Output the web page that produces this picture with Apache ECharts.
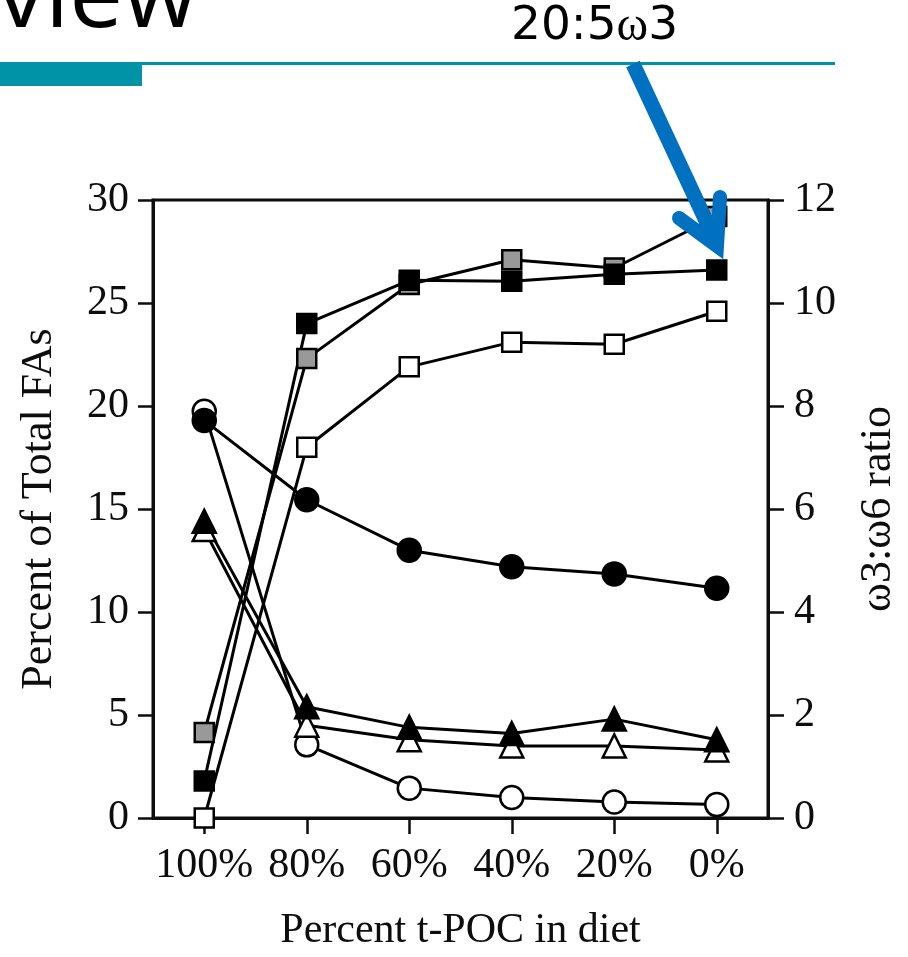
<!DOCTYPE html>
<html>
<head>
<meta charset="utf-8">
<script src="https://cdn.jsdelivr.net/npm/echarts@6/dist/echarts.min.js"></script>
<style>
html,body{margin:0;padding:0;background:#fff;}
#chart{width:908px;height:957px;}
</style>
</head>
<body>
<div id="chart"></div>
<script>
// ---- data ----
var categories = ['100%', '80%', '60%', '40%', '20%', '0%'];
var leftTicks = { min: 0, max: 30, interval: 5 };
var rightTicks = { min: 0, max: 12, interval: 2 };

var openSquares   = [0.0, 18.0, 21.9, 23.1, 23.0, 24.6];
var graySquares   = [4.15, 22.3, 25.9, 27.1, 26.7, 29.2];
var blackSquares  = [1.8, 24.0, 26.1, 26.05, 26.4, 26.6];   // 20:5ω3
var openCircles   = [19.75, 3.55, 1.45, 1.0, 0.78, 0.65];
var filledCircles = [19.3, 15.45, 13.0, 12.2, 11.85, 11.15];
var openTriangles = [14.0, 4.5, 3.8, 3.5, 3.5, 3.3];
var filledTriangles = [14.4, 5.4, 4.4, 4.1, 4.8, 3.8];

var SERIF = '"Liberation Serif", "Times New Roman", serif';
var INK = '#0d0d0d';

function mk(name, data, symbol, size, fill) {
  return {
    name: name,
    type: 'line',
    data: data,
    yAxisIndex: 0,
    symbol: symbol,
    symbolSize: size,
    showAllSymbol: true,
    lineStyle: { color: '#000', width: 3 },
    itemStyle: { color: fill, borderColor: '#000', borderWidth: 2.5 },
    emphasis: { disabled: true },
    animation: false
  };
}

var chart = echarts.init(document.getElementById('chart'), null, { renderer: 'canvas' });
chart.setOption({
  backgroundColor: '#fff',
  animation: false,
  grid: {
    left: 153, right: 136, top: 200, bottom: 136,
    show: true, borderColor: INK, borderWidth: 3, backgroundColor: 'transparent'
  },
  xAxis: {
    type: 'category',
    data: categories,
    boundaryGap: true,
    axisLine: { lineStyle: { color: INK, width: 3 } },
    axisTick: { show: true, alignWithLabel: true, length: 16, lineStyle: { color: INK, width: 2.5 } },
    axisLabel: { interval: 0, fontFamily: SERIF, fontSize: 42, color: INK, margin: 27 },
    name: 'Percent t-POC in diet',
    nameLocation: 'middle',
    nameGap: 92,
    nameTextStyle: { fontFamily: SERIF, fontSize: 42, color: INK }
  },
  yAxis: [
    {
      type: 'value', position: 'left',
      min: leftTicks.min, max: leftTicks.max, interval: leftTicks.interval,
      splitLine: { show: false },
      axisLine: { show: true, lineStyle: { color: INK, width: 3 } },
      axisTick: { show: true, length: 15, lineStyle: { color: INK, width: 2.5 } },
      axisLabel: { fontFamily: SERIF, fontSize: 42, color: INK, margin: 24 },
      name: 'Percent of Total FAs',
      nameLocation: 'middle',
      nameGap: 92,
      nameTextStyle: { fontFamily: SERIF, fontSize: 44, color: INK }
    },
    {
      type: 'value', position: 'right',
      min: rightTicks.min, max: rightTicks.max, interval: rightTicks.interval,
      splitLine: { show: false },
      axisLine: { show: true, lineStyle: { color: INK, width: 3 } },
      axisTick: { show: true, length: 16, lineStyle: { color: INK, width: 2.5 } },
      axisLabel: { fontFamily: SERIF, fontSize: 42, color: INK, margin: 26 },
      name: 'ω3:ω6 ratio',
      nameLocation: 'middle',
      nameGap: 88,
      nameTextStyle: { fontFamily: SERIF, fontSize: 44, color: INK }
    }
  ],
  series: [
    mk('Open squares', openSquares, 'rect', 19, '#fff'),
    mk('Gray squares', graySquares, 'rect', 19, '#999'),
    mk('20:5ω3', blackSquares, 'rect', 19, '#000'),
    mk('Open circles', openCircles, 'circle', 23, '#fff'),
    mk('Filled circles', filledCircles, 'circle', 23, '#000'),
    mk('Open triangles', openTriangles, 'triangle', 23, '#fff'),
    mk('Filled triangles', filledTriangles, 'triangle', 23, '#000')
  ],
  graphic: [
    { type: 'text', z: 100, style: { x: -3, y: 0, text: 'view', fontFamily: '"Open Sans", sans-serif', fontSize: 96, fill: '#000', verticalAlign: 'middle', align: 'left' } },
    { type: 'rect', z: 100, shape: { x: 0, y: 62, width: 835, height: 3 }, style: { fill: '#0093A8' } },
    { type: 'rect', z: 100, shape: { x: 0, y: 62, width: 142, height: 24 }, style: { fill: '#0093A8' } },
    {
      type: 'text', z: 100,
      style: {
        x: 511, y: 27, align: 'left', verticalAlign: 'middle',
        text: '{a|20:5}{b|ω}{a|3}',
        rich: {
          a: { fontFamily: '"DejaVu Sans", sans-serif', fontSize: 47, fill: '#000' },
          b: { fontFamily: SERIF, fontSize: 48, fill: '#000' }
        }
      }
    },
    { type: 'polyline', z: 110, shape: { points: [[633, 64], [715, 240]] }, style: { stroke: '#0070C0', lineWidth: 15, lineCap: 'butt', fill: null } },
    { type: 'polyline', z: 110, shape: { points: [[679, 218], [717, 246], [720, 197]] }, style: { stroke: '#0070C0', lineWidth: 14, lineCap: 'round', lineJoin: 'miter', fill: null } }
  ]
});
</script>
</body>
</html>
